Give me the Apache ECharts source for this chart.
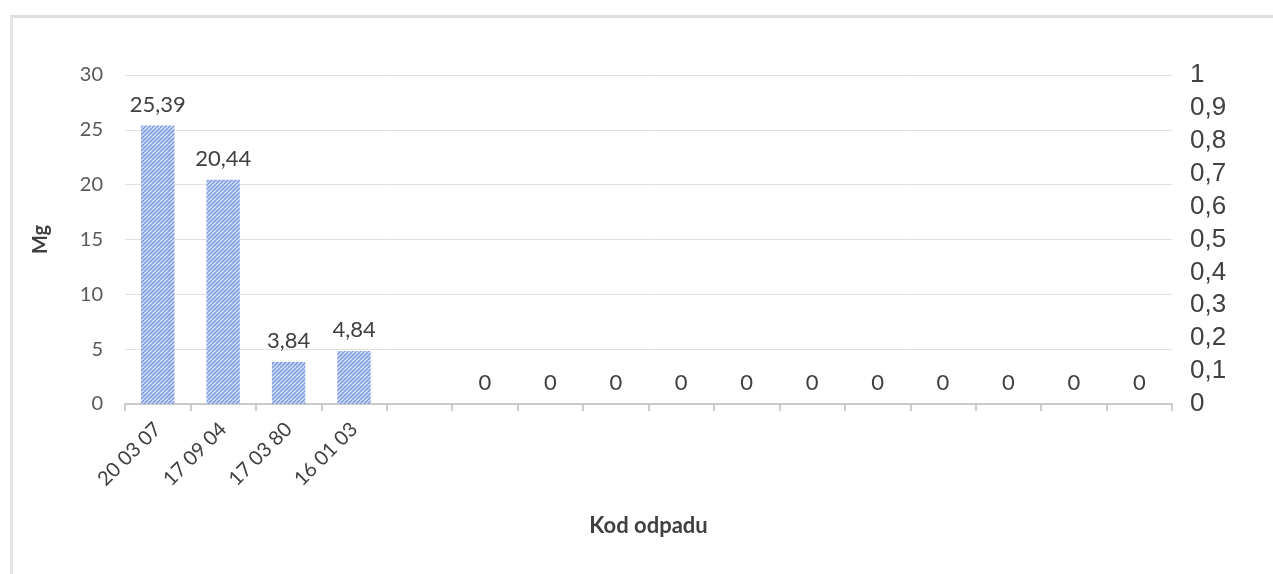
<!DOCTYPE html>
<html>
<head>
<meta charset="utf-8">
<script src="https://cdn.jsdelivr.net/npm/echarts@6/dist/echarts.min.js"></script>
<style>
  html, body { margin: 0; padding: 0; background: #ffffff; }
  #frame { position: absolute; left: 10px; top: 15px; width: 1300px; height: 600px;
           border-top: 3px solid #dedede; border-left: 3px solid #e4e4e4; }
  #chart { position: absolute; left: 0; top: 0; width: 1273px; height: 574px; }
</style>
</head>
<body>
<div id="frame"></div>
<div id="chart"></div>
<script>
const categories = ['20 03 07', '17 09 04', '17 03 80', '16 01 03', '', '', '', '', '', '', '', '', '', '', '', ''];
const values = [25.39, 20.44, 3.84, 4.84, null, 0, 0, 0, 0, 0, 0, 0, 0, 0, 0, 0];
const leftTicks = { min: 0, max: 30, interval: 5 };
const rightTicks = { min: 0, max: 1, interval: 0.1 };

function hatch() {
  const c = document.createElement('canvas');
  c.width = 8; c.height = 8;
  const g = c.getContext('2d');
  g.fillStyle = '#dce5f8';
  g.fillRect(0, 0, 8, 8);
  g.strokeStyle = '#819fe1';
  g.lineWidth = 1.7;
  for (let k = -8; k <= 16; k += 4) {
    g.beginPath();
    g.moveTo(k, 8);
    g.lineTo(k + 8, 0);
    g.stroke();
  }
  return c;
}

const comma = v => String(v).replace('.', ',');
const chart = echarts.init(document.getElementById('chart'));
chart.setOption({
  animation: false,
  grid: { left: 125, right: 101, top: 75, bottom: 170 },
  xAxis: {
    type: 'category',
    data: categories,
    name: 'Kod odpadu',
    nameLocation: 'middle',
    nameGap: 111,
    nameTextStyle: { fontFamily: 'Lato', fontWeight: 'bold', fontSize: 22, color: '#404040' },
    axisLine: { lineStyle: { color: '#bfbfbf', width: 1.5 } },
    axisTick: { show: true, length: 7, lineStyle: { color: '#bfbfbf', width: 1.5 } },
    axisLabel: { rotate: 45, interval: 0, fontFamily: 'Lato', fontSize: 20, color: '#404040', margin: 22 }
  },
  yAxis: [
    {
      type: 'value', min: leftTicks.min, max: leftTicks.max, interval: leftTicks.interval,
      name: 'Mg', nameLocation: 'middle', nameGap: 74, nameRotate: 90,
      nameTextStyle: { fontFamily: 'Lato', fontWeight: 'bold', fontSize: 20, color: '#404040' },
      axisLine: { show: false }, axisTick: { show: false },
      splitLine: { lineStyle: { color: '#e0e0e0', width: 1 } },
      axisLabel: { fontFamily: 'Lato', fontSize: 20, color: '#595959', margin: 22 }
    },
    {
      type: 'value', min: rightTicks.min, max: rightTicks.max, interval: rightTicks.interval,
      position: 'right',
      axisLine: { show: false }, axisTick: { show: false }, splitLine: { show: false },
      axisLabel: { fontFamily: 'Liberation Sans', fontSize: 26, color: '#404040', margin: 18,
                   formatter: comma }
    }
  ],
  series: [{
    type: 'bar',
    data: values,
    yAxisIndex: 0,
    barWidth: '51%',
    itemStyle: { color: { image: hatch(), repeat: 'repeat' } },
    label: { show: true, position: 'top', distance: 10, fontFamily: 'Lato', fontSize: 22,
             color: '#404040', formatter: p => comma(p.value) }
  }]
});
</script>
</body>
</html>
